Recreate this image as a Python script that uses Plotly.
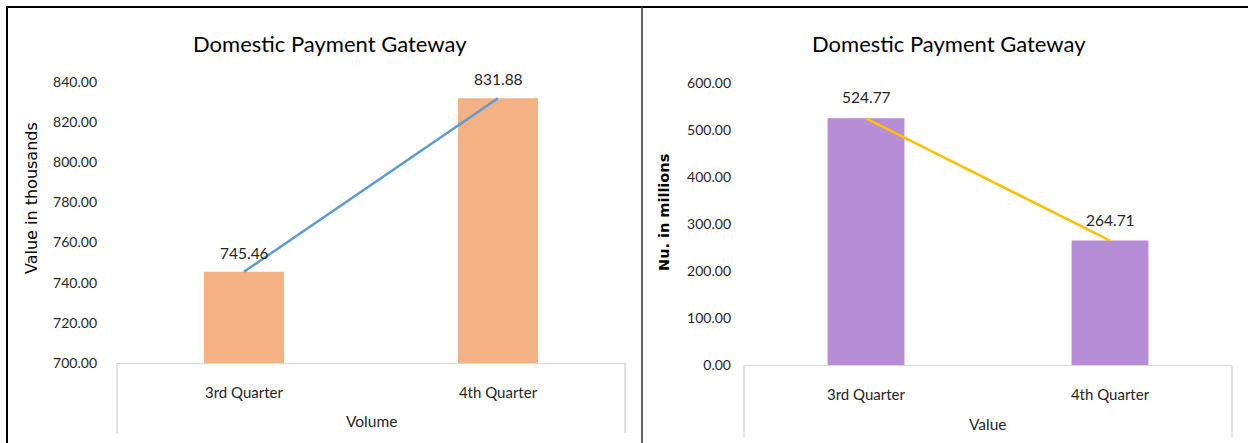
import plotly.graph_objects as go

# Quarterly figures for the domestic payment gateway
quarters = ["3rd Quarter", "4th Quarter"]
volume_thousands = [745.46, 831.88]
value_millions = [524.77, 264.71]

volume_ticks = [700, 720, 740, 760, 780, 800, 820, 840]
value_ticks = [0, 100, 200, 300, 400, 500, 600]

title_text = "Domestic Payment Gateway"
left_ytitle = "Value in thousands"
right_ytitle = "Nu. in millions"
left_xtitle = "Volume"
right_xtitle = "Value"

W, H = 1248, 443
BODY_FONT = "Lato, Carlito, 'Liberation Sans Narrow', Arial, sans-serif"
AXIS_TITLE_FONT = "'DejaVu Sans', Verdana, sans-serif"
BOX_GRAY = "#D9D9D9"
TEXT_DARK = "#262626"


def px_x(x):
    return x / W


def px_y(y):
    return 1 - y / H


fig = go.Figure()

# Left panel: volume bars with a connecting line
fig.add_trace(go.Bar(
    x=quarters, y=volume_thousands, marker_color="#F4B183",
    marker_line_width=0, xaxis="x", yaxis="y", hoverinfo="skip",
))
fig.add_trace(go.Scatter(
    x=quarters, y=volume_thousands, mode="lines",
    line=dict(color="#5B9BD5", width=2.5), xaxis="x", yaxis="y",
    cliponaxis=False, hoverinfo="skip",
))

# Right panel: value bars with a connecting line
fig.add_trace(go.Bar(
    x=quarters, y=value_millions, marker_color="#B78DD7",
    marker_line_width=0, xaxis="x2", yaxis="y2", hoverinfo="skip",
))
fig.add_trace(go.Scatter(
    x=quarters, y=value_millions, mode="lines",
    line=dict(color="#FFC000", width=2.5), xaxis="x2", yaxis="y2",
    cliponaxis=False, hoverinfo="skip",
))

ytickfont = dict(family=BODY_FONT, size=14, color=TEXT_DARK)
xtickfont = dict(family=BODY_FONT, size=15, color=TEXT_DARK)

left_x0, left_x1, left_ytop, left_ybot = 117, 625, 82, 363
right_x0, right_x1, right_ytop, right_ybot = 744, 1232, 83, 365

axis_common = dict(
    showgrid=False, zeroline=False, ticks="", fixedrange=True,
    automargin=False,
)

fig.update_layout(
    width=W, height=H,
    margin=dict(l=0, r=0, t=0, b=0, pad=0),
    autosize=False,
    paper_bgcolor="white", plot_bgcolor="white",
    showlegend=False,
    bargap=0.685,
    xaxis=dict(
        domain=[px_x(left_x0), px_x(left_x1)], anchor="y",
        showline=True, linecolor=BOX_GRAY, linewidth=1,
        tickfont=xtickfont, ticklabelstandoff=16, **axis_common,
    ),
    yaxis=dict(
        domain=[px_y(left_ybot), px_y(left_ytop)], anchor="x",
        range=[700, 840], tickvals=volume_ticks,
        ticktext=[f"{v:.2f}" for v in volume_ticks],
        showline=False, tickfont=ytickfont, ticklabelstandoff=19,
        **axis_common,
    ),
    xaxis2=dict(
        domain=[px_x(right_x0), px_x(right_x1)], anchor="y2",
        showline=True, linecolor=BOX_GRAY, linewidth=1,
        tickfont=xtickfont, ticklabelstandoff=16, **axis_common,
    ),
    yaxis2=dict(
        domain=[px_y(right_ybot), px_y(right_ytop)], anchor="x2",
        range=[0, 600], tickvals=value_ticks,
        ticktext=[f"{v:.2f}" for v in value_ticks],
        showline=False, tickfont=ytickfont, ticklabelstandoff=12,
        **axis_common,
    ),
)

annotations = []

# Data labels above each bar
label_font = dict(family=BODY_FONT, size=15.5, color=TEXT_DARK)
for q, v in zip(quarters, volume_thousands):
    annotations.append(dict(
        x=q, y=v, xref="x", yref="y", text=f"{v:.2f}", showarrow=False,
        xanchor="center", yanchor="middle", yshift=19, font=label_font,
    ))
for q, v in zip(quarters, value_millions):
    annotations.append(dict(
        x=q, y=v, xref="x2", yref="y2", text=f"{v:.2f}", showarrow=False,
        xanchor="center", yanchor="middle", yshift=21, font=label_font,
    ))


def paper_text(x, y, text, font, angle=0):
    return dict(x=px_x(x), y=px_y(y), xref="paper", yref="paper",
                text=text, textangle=angle, showarrow=False,
                xanchor="center", yanchor="middle", font=font)


# Chart titles
title_font = dict(family=BODY_FONT, size=22, color="#000000")
annotations.append(paper_text(330, 43, title_text, title_font))
annotations.append(paper_text(949, 43, title_text, title_font))

# Vertical axis titles
annotations.append(paper_text(
    31, 198, left_ytitle,
    dict(family=AXIS_TITLE_FONT, size=16, color="#000000"), angle=-90))
annotations.append(paper_text(
    664, 213, f"<b>{right_ytitle}</b>",
    dict(family=AXIS_TITLE_FONT, size=14.5, color="#000000"), angle=-90))

# Horizontal axis titles under the category boxes
axis_title_font = dict(family=BODY_FONT, size=15.5, color=TEXT_DARK)
annotations.append(paper_text((left_x0 + left_x1) / 2, 421, left_xtitle,
                              axis_title_font))
annotations.append(paper_text((right_x0 + right_x1) / 2, 424, right_xtitle,
                              axis_title_font))

fig.update_layout(annotations=annotations)

shapes = []
# Side walls of the category boxes
for x0, ytop, ybot in [(left_x0, left_ybot, 433), (left_x1, left_ybot, 433),
                       (right_x0, right_ybot, 437), (right_x1, right_ybot, 437)]:
    shapes.append(dict(type="line", xref="paper", yref="paper",
                       x0=px_x(x0), x1=px_x(x0), y0=px_y(ytop), y1=px_y(ybot),
                       line=dict(color=BOX_GRAY, width=1.5)))

# Outer frame: top rule, left edge, divider between the two charts
frame = dict(color="#000000", width=2)
shapes.append(dict(type="line", xref="paper", yref="paper",
                   x0=px_x(6), x1=1, y0=px_y(7), y1=px_y(7), line=frame))
shapes.append(dict(type="line", xref="paper", yref="paper",
                   x0=px_x(7), x1=px_x(7), y0=px_y(6), y1=0, line=frame))
shapes.append(dict(type="line", xref="paper", yref="paper",
                   x0=px_x(642), x1=px_x(642), y0=px_y(6), y1=0,
                   line=dict(color="#333333", width=1.5)))
fig.update_layout(shapes=shapes)

fig.write_html("out.html")
